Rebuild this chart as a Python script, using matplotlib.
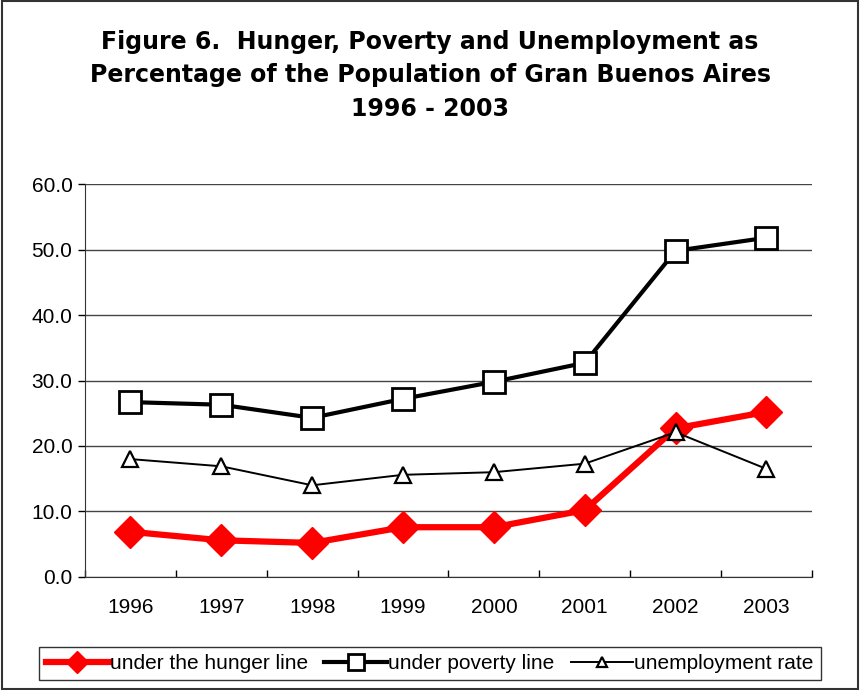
import matplotlib
matplotlib.use("Agg")
import matplotlib.pyplot as plt
from matplotlib.patches import Rectangle

# ── Data ──────────────────────────────────────────────────────────────────────
years = ["1996", "1997", "1998", "1999", "2000", "2001", "2002", "2003"]
hunger = [6.9, 5.6, 5.2, 7.6, 7.6, 10.2, 22.7, 25.2]
poverty = [26.7, 26.3, 24.3, 27.2, 29.8, 32.7, 49.8, 51.8]
unemployment = [18.0, 16.9, 14.0, 15.6, 16.0, 17.3, 22.1, 16.5]

TITLE = ("Figure 6.  Hunger, Poverty and Unemployment as\n"
         "Percentage of the Population of Gran Buenos Aires\n"
         "1996 - 2003")

plt.rcParams["font.family"] = ["Liberation Sans", "DejaVu Sans"]

fig = plt.figure(figsize=(8.6, 6.9), dpi=100, facecolor="white")
fig.patches.append(Rectangle((0.002, 0.002), 0.996, 0.996, transform=fig.transFigure,
                             fill=False, edgecolor="#333333", linewidth=1.5))

ax = fig.add_axes([0.0988, 0.1638, 0.8453, 0.5695])
x = list(range(len(years)))

ax.plot(x, hunger, color="#ff0000", linewidth=4.5, marker="D", markersize=16,
        markerfacecolor="#ff0000", markeredgecolor="#ff0000", label="under the hunger line", zorder=3)
ax.plot(x, poverty, color="black", linewidth=3, marker="s", markersize=16,
        markerfacecolor="white", markeredgecolor="black", markeredgewidth=2,
        label="under poverty line", zorder=4)
ax.plot(x, unemployment, color="black", linewidth=1.4, marker="^", markersize=11,
        markerfacecolor="white", markeredgecolor="black", markeredgewidth=1.6,
        label="unemployment rate", zorder=5)

ax.set_xlim(-0.5, len(years) - 0.5)
ax.set_ylim(0, 60)
ax.set_yticks(range(0, 61, 10))
ax.set_yticklabels([f"{v:.1f}" for v in range(0, 61, 10)], fontsize=15)
ax.set_xticks(x)
ax.set_xticklabels(years, fontsize=15)
ax.tick_params(axis="x", length=0, pad=15)
ax.set_xticks([i - 0.5 for i in range(len(years) + 1)], minor=True)
ax.tick_params(axis="x", which="minor", direction="in", length=5, width=1)
ax.tick_params(axis="y", direction="out", length=5, width=1, pad=4)
ax.yaxis.grid(True, color="#444444", linewidth=1)
ax.set_axisbelow(True)
for s in ["top", "right"]:
    ax.spines[s].set_visible(False)
for s in ["left", "bottom"]:
    ax.spines[s].set_color("#333333")

fig.text(0.5, 0.957, TITLE, ha="center", va="top", fontsize=17, fontweight="bold",
         family="DejaVu Sans", linespacing=1.5)

leg = fig.legend(loc="lower center", bbox_to_anchor=(0.5, -0.001), ncol=3, fontsize=15,
                 frameon=True, fancybox=False, edgecolor="black", handlelength=3.0,
                 handletextpad=0.05, columnspacing=0.8, borderpad=0.35, markerscale=0.7)
leg.get_frame().set_linewidth(1)

fig.savefig("out.png", dpi=100, facecolor="white")
